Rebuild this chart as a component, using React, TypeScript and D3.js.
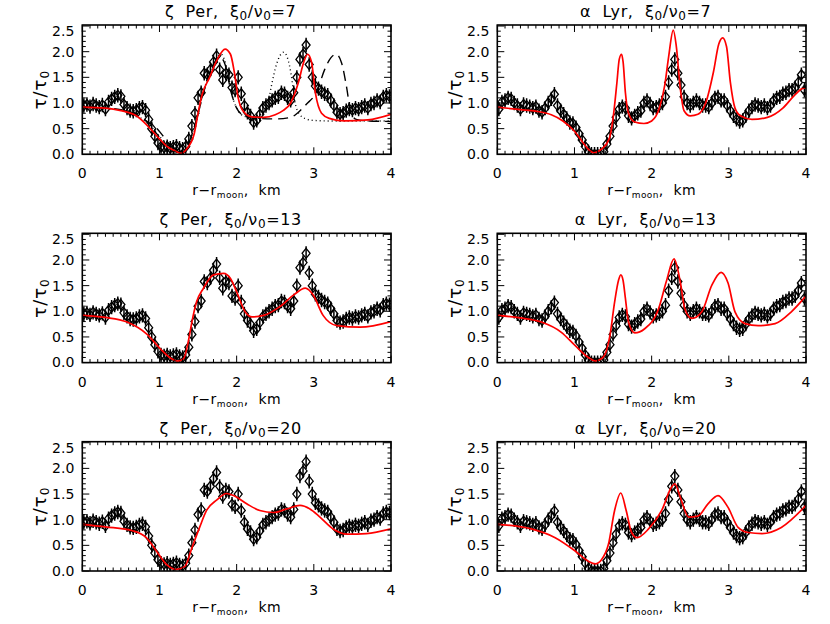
import React, { useRef, useEffect } from "react";
import * as d3 from "d3";

// radial distance of the data points, km
const radius = [
  0.02, 0.06, 0.1, 0.14, 0.18, 0.22, 0.26, 0.3, 0.34, 0.38, 0.42, 0.46, 0.5, 0.54, 0.58, 0.62, 0.66, 0.7, 0.74, 0.78,
  0.82, 0.86, 0.9, 0.94, 0.98, 1.02, 1.06, 1.1, 1.14, 1.18, 1.22, 1.26, 1.3, 1.34, 1.38, 1.42, 1.46, 1.5, 1.54, 1.58,
  1.62, 1.66, 1.7, 1.74, 1.78, 1.82, 1.86, 1.9, 1.94, 1.98, 2.02, 2.06, 2.1, 2.14, 2.18, 2.22, 2.26, 2.3, 2.34, 2.38,
  2.42, 2.46, 2.5, 2.54, 2.58, 2.62, 2.66, 2.7, 2.74, 2.78, 2.82, 2.86, 2.9, 2.94, 2.98, 3.02, 3.06, 3.1, 3.14, 3.18,
  3.22, 3.26, 3.3, 3.34, 3.38, 3.42, 3.46, 3.5, 3.54, 3.58, 3.62, 3.66, 3.7, 3.74, 3.78, 3.82, 3.86, 3.9, 3.94, 3.98,
];

// zeta Per occultation, tau / tau0
const zetaTau = [
  0.95, 0.97, 0.93, 0.98, 0.95, 0.92, 0.96, 0.88, 1.02, 1.08, 1.12, 1.15, 1.13, 0.97, 0.9, 0.85, 0.84, 0.86, 0.9, 0.92,
  0.86, 0.68, 0.5, 0.35, 0.22, 0.15, 0.13, 0.15, 0.12, 0.14, 0.16, 0.12, 0.1, 0.15, 0.3, 0.55, 0.8, 1.1, 1.2, 1.58,
  1.55, 1.65, 1.8, 1.92, 1.65, 1.45, 1.58, 1.55, 1.3, 1.25, 1.5, 1.18, 0.95, 0.82, 0.75, 0.62, 0.66, 0.78, 0.9, 0.95,
  1.0, 1.05, 1.1, 1.12, 1.2, 1.18, 1.1, 1.05, 1.2, 1.5, 1.85, 1.95, 2.13, 1.75, 1.5, 1.33, 1.28, 1.22, 1.18, 1.15,
  1.05, 0.95, 0.82, 0.78, 0.8, 0.85, 0.88, 0.86, 0.9, 0.88, 0.92, 0.95, 0.9, 0.98, 1.0, 1.05, 1.02, 1.12, 1.15, 1.13,
];

// alpha Lyr occultation, tau / tau0
const alphaTau = [
  0.88, 1.02, 1.05, 1.1, 1.08, 1.0, 0.95, 0.88, 0.97, 0.95, 0.93, 0.9, 0.93, 0.85, 0.82, 0.9, 1.0, 1.08, 1.17, 0.95,
  0.85, 0.78, 0.7, 0.62, 0.6, 0.52, 0.4, 0.28, 0.15, 0.05, 0.0, 0.0, 0.0, 0.0, 0.05, 0.2, 0.35, 0.55, 0.72, 0.88,
  0.93, 0.9, 0.75, 0.7, 0.75, 0.8, 0.85, 1.0, 1.05, 0.98, 0.9, 0.92, 0.95, 1.0, 1.12, 1.4, 1.65, 1.85, 1.58, 1.35,
  1.12, 1.0, 0.95, 1.0, 1.05, 1.0, 0.95, 0.95, 0.92, 1.0, 1.1, 1.12, 1.05, 1.05, 0.95, 0.85, 0.75, 0.68, 0.64, 0.66,
  0.75, 0.85, 0.92, 0.97, 0.95, 0.92, 0.95, 0.9, 0.95, 1.05, 1.1, 1.12, 1.18, 1.2, 1.25, 1.25, 1.3, 1.4, 1.55, 1.25,
];

const tauErr = 0.14;

// model curves [r, tau/tau0]
const zetaModel7 = [
  [0, 0.92], [0.3, 0.9], [0.5, 0.85], [0.7, 0.75], [0.85, 0.55], [1.0, 0.3], [1.1, 0.15], [1.2, 0.07], [1.28, 0.02],
  [1.35, 0.1], [1.45, 0.4], [1.5, 0.8], [1.55, 1.15], [1.65, 1.5], [1.75, 1.85], [1.85, 2.05], [1.92, 1.95],
  [1.97, 1.6], [2.02, 1.1], [2.08, 0.85], [2.2, 0.73], [2.35, 0.72], [2.5, 0.77], [2.6, 0.85], [2.7, 1.0], [2.8, 1.4],
  [2.87, 1.8], [2.92, 1.95], [2.97, 1.8], [3.02, 1.2], [3.1, 0.8], [3.2, 0.7], [3.4, 0.65], [3.7, 0.67], [4.0, 0.78],
];
const zetaModel7Dotted = [
  [0, 0.92], [0.3, 0.9], [0.5, 0.86], [0.7, 0.76], [0.85, 0.6], [1.0, 0.35], [1.1, 0.18], [1.2, 0.08], [1.28, 0.03],
  [1.35, 0.1], [1.45, 0.45], [1.55, 1.1], [1.65, 1.6], [1.75, 1.9], [1.8, 1.95], [1.87, 1.7], [1.95, 1.1], [2.02, 0.85],
  [2.1, 0.74], [2.2, 0.72], [2.32, 0.78], [2.4, 0.95], [2.45, 1.33], [2.52, 1.77], [2.61, 1.99], [2.71, 1.52],
  [2.75, 1.06], [2.82, 0.77], [2.9, 0.69], [3.0, 0.66], [3.2, 0.65], [3.5, 0.65], [4.0, 0.65],
];
const zetaModel7Dashed = [
  [0, 0.92], [0.3, 0.9], [0.5, 0.87], [0.7, 0.78], [0.85, 0.63], [0.95, 0.53], [1.05, 0.35], [1.15, 0.15], [1.25, 0.05],
  [1.3, 0.05], [1.4, 0.3], [1.5, 0.8], [1.6, 1.35], [1.7, 1.75], [1.78, 1.9], [1.85, 1.75], [1.93, 1.2], [2.0, 0.9],
  [2.1, 0.75], [2.25, 0.7], [2.5, 0.69], [2.7, 0.72], [2.8, 0.82], [2.9, 0.97], [3.04, 1.23], [3.14, 1.65],
  [3.22, 1.88], [3.29, 1.95], [3.36, 1.78], [3.42, 1.35], [3.48, 0.82], [3.55, 0.68], [3.7, 0.65], [4.0, 0.64],
];
const alphaModel7 = [
  [0, 0.92], [0.3, 0.87], [0.5, 0.84], [0.7, 0.77], [0.85, 0.65], [1.0, 0.45], [1.1, 0.25], [1.2, 0.07], [1.25, 0.03],
  [1.35, 0.1], [1.45, 0.3], [1.5, 0.7], [1.55, 1.4], [1.58, 1.85], [1.61, 1.95], [1.63, 1.8], [1.66, 1.2], [1.7, 0.8],
  [1.78, 0.63], [1.9, 0.6], [2.0, 0.65], [2.1, 0.9], [2.17, 1.35], [2.22, 1.9], [2.28, 2.42], [2.32, 2.1], [2.37, 1.3],
  [2.42, 0.85], [2.5, 0.75], [2.6, 0.78], [2.7, 1.0], [2.8, 1.6], [2.87, 2.15], [2.92, 2.27], [2.97, 2.1], [3.02, 1.4],
  [3.08, 0.9], [3.15, 0.75], [3.3, 0.68], [3.5, 0.72], [3.7, 0.9], [3.85, 1.15], [3.95, 1.28], [4.0, 1.3],
];
const zetaModel13 = [
  [0, 0.92], [0.3, 0.88], [0.58, 0.79], [0.84, 0.55], [1.01, 0.27], [1.15, 0.08], [1.23, 0.03], [1.31, 0.07],
  [1.38, 0.46], [1.42, 0.79], [1.48, 1.18], [1.57, 1.45], [1.7, 1.71], [1.83, 1.74], [1.92, 1.64], [2.0, 1.38],
  [2.11, 0.99], [2.2, 0.89], [2.35, 0.92], [2.56, 1.09], [2.74, 1.32], [2.89, 1.45], [2.99, 1.32], [3.12, 0.92],
  [3.3, 0.72], [3.6, 0.69], [4.0, 0.8],
];
const alphaModel13 = [
  [0, 0.92], [0.3, 0.87], [0.57, 0.79], [0.83, 0.59], [1.01, 0.33], [1.18, 0.1], [1.27, 0.03], [1.37, 0.1],
  [1.46, 0.53], [1.52, 1.18], [1.57, 1.6], [1.6, 1.71], [1.63, 1.6], [1.66, 1.25], [1.7, 0.79], [1.78, 0.58],
  [1.91, 0.66], [2.09, 1.05], [2.19, 1.58], [2.29, 2.02], [2.37, 1.58], [2.43, 1.05], [2.52, 0.86], [2.65, 0.99],
  [2.78, 1.51], [2.9, 1.76], [2.99, 1.55], [3.08, 0.99], [3.21, 0.76], [3.38, 0.72], [3.6, 0.76], [3.81, 0.99],
  [4.0, 1.3],
];
const zetaModel20 = [
  [0, 0.91], [0.3, 0.86], [0.66, 0.78], [0.83, 0.65], [0.96, 0.39], [1.09, 0.13], [1.22, 0.03], [1.33, 0.09],
  [1.42, 0.45], [1.52, 0.85], [1.61, 1.18], [1.74, 1.38], [1.87, 1.51], [1.96, 1.47], [2.13, 1.31], [2.3, 1.18],
  [2.48, 1.14], [2.65, 1.21], [2.82, 1.28], [2.95, 1.21], [3.08, 1.05], [3.25, 0.82], [3.43, 0.72], [3.68, 0.73],
  [4.0, 0.82],
];
const alphaModel20 = [
  [0, 0.91], [0.44, 0.82], [0.75, 0.65], [1.01, 0.39], [1.18, 0.19], [1.27, 0.14], [1.35, 0.22], [1.44, 0.52],
  [1.52, 1.18], [1.6, 1.52], [1.67, 1.18], [1.74, 0.75], [1.81, 0.65], [1.96, 0.82], [2.13, 1.18], [2.26, 1.64],
  [2.3, 1.7], [2.37, 1.44], [2.48, 1.05], [2.6, 1.07], [2.73, 1.31], [2.86, 1.47], [2.99, 1.24], [3.12, 0.85],
  [3.25, 0.75], [3.43, 0.73], [3.68, 0.85], [4.0, 1.28],
];

const stars = ["ζ  Per,  ξ", "α  Lyr,  ξ"];
const ratios = ["7", "13", "20"];
const xTicks = [0, 1, 2, 3, 4];
const yTicks = [0, 0.5, 1, 1.5, 2, 2.5];

const panels = [
  { col: 0, row: 0, data: zetaTau, curves: [{ pts: zetaModel7Dotted, color: "#000", dash: "1,3" }, { pts: zetaModel7Dashed, color: "#000", dash: "10,6" }, { pts: zetaModel7, color: "#ff0000" }] },
  { col: 1, row: 0, data: alphaTau, curves: [{ pts: alphaModel7, color: "#ff0000" }] },
  { col: 0, row: 1, data: zetaTau, curves: [{ pts: zetaModel13, color: "#ff0000" }] },
  { col: 1, row: 1, data: alphaTau, curves: [{ pts: alphaModel13, color: "#ff0000" }] },
  { col: 0, row: 2, data: zetaTau, curves: [{ pts: zetaModel20, color: "#ff0000" }] },
  { col: 1, row: 2, data: alphaTau, curves: [{ pts: alphaModel20, color: "#ff0000" }] },
];

const W = 830;
const H = 624;
const colLeft = [82.3, 497.3];
const rowTop = [25, 233.3, 441.7];
const pw = 308.7;
const ph = 129.3;
const font = "'DejaVu Sans', sans-serif";

const App = () => {
  const ref = useRef<SVGSVGElement>(null);

  useEffect(() => {
    const svg = d3.select(ref.current);
    svg.selectAll("*").remove();

    const x = d3.scaleLinear().domain([0, 4]).range([0, pw]);
    const y = d3.scaleLinear().domain([0, 2.52]).range([ph, 0]);

    panels.forEach((p, i) => {
      const g = svg.append("g").attr("transform", `translate(${colLeft[p.col]},${rowTop[p.row]})`);

      const clipId = `clip${i}`;
      g.append("clipPath").attr("id", clipId).append("rect").attr("width", pw).attr("height", ph);
      const plot = g.append("g").attr("clip-path", `url(#${clipId})`);

      // error bars
      plot.selectAll(".err")
        .data(p.data)
        .enter()
        .append("line")
        .attr("x1", (d, j) => x(radius[j]))
        .attr("x2", (d, j) => x(radius[j]))
        .attr("y1", (d) => y(d - tauErr))
        .attr("y2", (d) => y(d + tauErr))
        .attr("stroke", "#000")
        .attr("stroke-width", 1.5);

      // diamonds
      plot.selectAll(".dia")
        .data(p.data)
        .enter()
        .append("path")
        .attr("d", (d, j) => {
          const cx = x(radius[j]);
          const cy = y(d);
          return `M${cx},${cy - 5}L${cx + 4},${cy}L${cx},${cy + 5}L${cx - 4},${cy}Z`;
        })
        .attr("fill", "none")
        .attr("stroke", "#000")
        .attr("stroke-width", 1.3);

      // model curves
      const line = d3.line<number[]>()
        .x((d) => x(d[0]))
        .y((d) => y(d[1]))
        .curve(d3.curveMonotoneX);
      p.curves.forEach((c) => {
        plot.append("path")
          .attr("d", line(c.pts))
          .attr("fill", "none")
          .attr("stroke", c.color)
          .attr("stroke-width", c.dash ? 1.4 : 1.7)
          .attr("stroke-dasharray", c.dash || null);
      });

      // frame with inward ticks on all sides
      const ax = g.append("g").attr("stroke", "#000").attr("stroke-width", 1);
      d3.range(0, 4.001, 0.1).forEach((v) => {
        const major = Math.abs(v - Math.round(v)) < 1e-6;
        const len = major ? 7 : 3.5;
        ax.append("line").attr("x1", x(v)).attr("x2", x(v)).attr("y1", ph).attr("y2", ph - len);
        ax.append("line").attr("x1", x(v)).attr("x2", x(v)).attr("y1", 0).attr("y2", len);
      });
      d3.range(0, 2.52, 0.1).forEach((v) => {
        const major = Math.abs(v * 2 - Math.round(v * 2)) < 1e-6;
        const len = major ? 7 : 3.5;
        ax.append("line").attr("x1", 0).attr("x2", len).attr("y1", y(v)).attr("y2", y(v));
        ax.append("line").attr("x1", pw).attr("x2", pw - len).attr("y1", y(v)).attr("y2", y(v));
      });
      g.append("rect")
        .attr("width", pw)
        .attr("height", ph)
        .attr("fill", "none")
        .attr("stroke", "#000")
        .attr("stroke-width", 1.6);

      // tick labels
      g.selectAll(".xl")
        .data(xTicks)
        .enter()
        .append("text")
        .attr("x", (d) => x(d))
        .attr("y", ph + 24)
        .attr("text-anchor", "middle")
        .attr("font-size", 14)
        .attr("font-family", font)
        .text((d) => d3.format("d")(d));
      g.selectAll(".yl")
        .data(yTicks)
        .enter()
        .append("text")
        .attr("x", -8)
        .attr("y", (d) => Math.max(y(d), 6))
        .attr("dy", "0.35em")
        .attr("text-anchor", "end")
        .attr("font-size", 14)
        .attr("font-family", font)
        .text((d) => d3.format(".1f")(d));

      // title
      const t = g.append("text")
        .attr("x", pw / 2 - 6)
        .attr("y", -8)
        .attr("text-anchor", "middle")
        .attr("font-size", 16)
        .attr("letter-spacing", 0.6)
        .attr("font-family", font)
        .style("white-space", "pre");
      t.append("tspan").text(stars[p.col]);
      t.append("tspan").attr("font-size", 12).attr("dy", 3).text("0");
      t.append("tspan").attr("dy", -3).text("/ν");
      t.append("tspan").attr("font-size", 12).attr("dy", 3).text("0");
      t.append("tspan").attr("dy", -3).text(`=${ratios[p.row]}`);

      // x label
      const xl = g.append("text")
        .attr("x", pw / 2)
        .attr("y", ph + 41)
        .attr("text-anchor", "middle")
        .attr("font-size", 14)
        .attr("letter-spacing", 0.4)
        .attr("font-family", font)
        .style("white-space", "pre");
      xl.append("tspan").text("r−r");
      xl.append("tspan").attr("font-size", 9).attr("dy", 3).text("moon");
      xl.append("tspan").attr("dy", -3).text(",  km");

      // y label
      const yl = g.append("text")
        .attr("transform", `translate(-36,${ph / 2}) rotate(-90)`)
        .attr("text-anchor", "middle")
        .attr("font-size", 18)
        .attr("letter-spacing", 1)
        .attr("font-family", font);
      yl.append("tspan").text("τ/τ");
      yl.append("tspan").attr("font-size", 12).attr("dy", 3).text("0");
    });
  }, []);

  return (
    <svg
      ref={ref}
      width={W}
      height={H}
      style={{ position: "absolute", left: 0, top: 0, background: "#fff" }}
    />
  );
};

export default App;
